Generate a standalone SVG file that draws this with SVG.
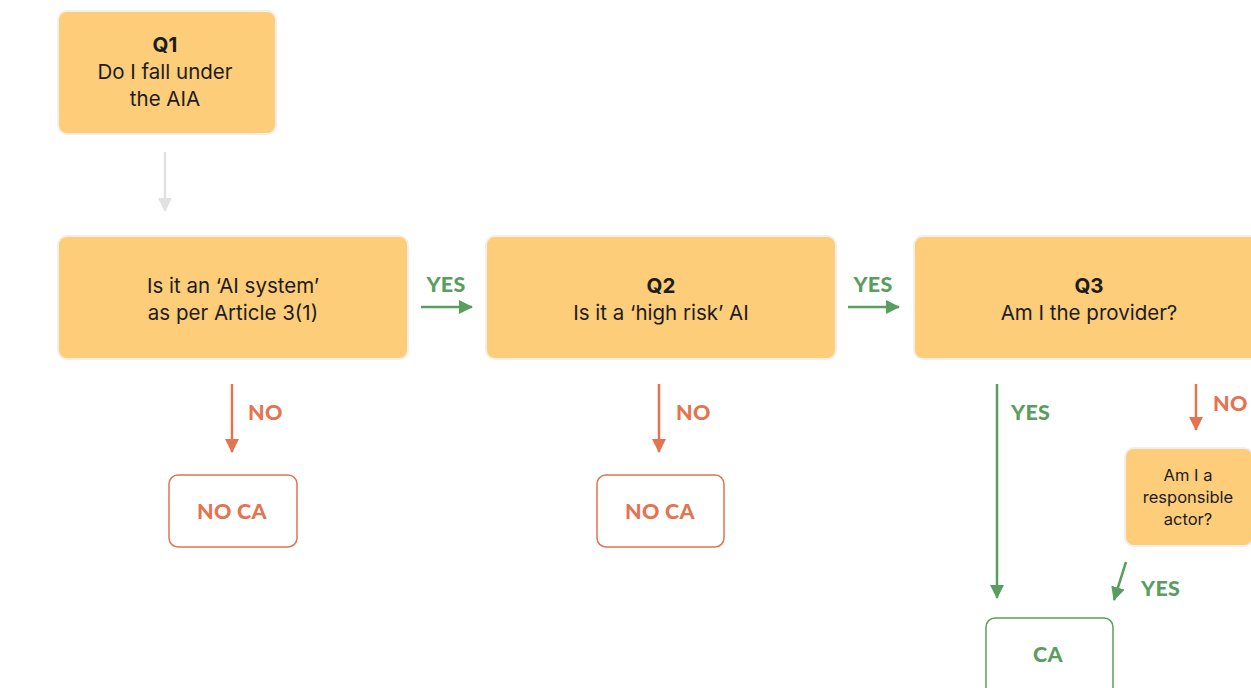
<svg xmlns="http://www.w3.org/2000/svg" width="1251" height="688" viewBox="0 0 1251 688">
<style>
.q{fill:#FDCD7A;stroke:#F3EFE8;stroke-width:2}
.t{font-family:Inter,"Liberation Sans",sans-serif;font-size:20.5px;fill:#1c1c1c;text-anchor:middle}
.ts{font-family:Inter,"Liberation Sans",sans-serif;font-size:16.5px;fill:#1c1c1c;text-anchor:middle}
.b{font-weight:700}
.lbl{font-family:Lato,"Open Sans",sans-serif;font-weight:900;font-size:21.5px;letter-spacing:0.3px}
.g{fill:#5A9E5F}
.r{fill:#E4734F}
.no{fill:#fff;stroke:#E4734F;stroke-width:1.5}
.ca{fill:#fff;stroke:#5A9E5F;stroke-width:1.5}
</style>
<defs>
<marker id="agb" viewBox="0 0 14 14" markerWidth="14" markerHeight="14" refX="13" refY="7" orient="auto" markerUnits="userSpaceOnUse"><path d="M0,0 L14,7 L0,14 z" fill="#5A9E5F"/></marker>
<marker id="ar" viewBox="0 0 14 14" markerWidth="14" markerHeight="14" refX="13" refY="7" orient="auto" markerUnits="userSpaceOnUse"><path d="M0,0 L14,7 L0,14 z" fill="#E4734F"/></marker>
<marker id="ay" viewBox="0 0 14 14" markerWidth="14" markerHeight="14" refX="13" refY="7" orient="auto" markerUnits="userSpaceOnUse"><path d="M0,0 L14,7 L0,14 z" fill="#E2E2E2"/></marker>
</defs>

<g id="q1">
<rect class="q" x="58" y="11" width="218" height="123" rx="9"/>
<text class="t b" x="165" y="52">Q1</text>
<text class="t" x="165" y="79">Do I fall under</text>
<text class="t" x="165" y="106">the AIA</text>
</g>

<g id="aisystem">
<rect class="q" x="58" y="236" width="350" height="123" rx="9"/>
<text class="t" x="233" y="293">Is it an ‘AI system’</text>
<text class="t" x="233" y="320">as per Article 3(1)</text>
</g>

<g id="q2">
<rect class="q" x="486" y="236" width="350" height="123" rx="9"/>
<text class="t b" x="661" y="293">Q2</text>
<text class="t" x="661" y="320">Is it a ‘high risk’ AI</text>
</g>

<g id="q3">
<rect class="q" x="914" y="236" width="350" height="123" rx="9"/>
<text class="t b" x="1089" y="293">Q3</text>
<text class="t" x="1089" y="320">Am I the provider?</text>
</g>

<g id="responsible">
<rect class="q" x="1125" y="448" width="128" height="98" rx="9"/>
<text class="ts" x="1188" y="481">Am I a</text>
<text class="ts" x="1188" y="503">responsible</text>
<text class="ts" x="1188" y="525">actor?</text>
</g>

<g id="noca1">
<rect class="no" x="169" y="475" width="128" height="72" rx="9"/>
<text class="lbl r" x="232" y="519" text-anchor="middle">NO CA</text>
</g>

<g id="noca2">
<rect class="no" x="597" y="475" width="127" height="72" rx="9"/>
<text class="lbl r" x="660" y="519" text-anchor="middle">NO CA</text>
</g>

<g id="ca">
<rect class="ca" x="986" y="618" width="127" height="80" rx="9"/>
<text class="lbl g" x="1048" y="662" text-anchor="middle">CA</text>
</g>

<g id="connectors" stroke-width="2.5" fill="none">
<line x1="165" y1="152" x2="165" y2="211" stroke="#E2E2E2" marker-end="url(#ay)"/>
<line x1="421" y1="307" x2="472" y2="307" stroke="#5A9E5F" marker-end="url(#agb)"/>
<line x1="848" y1="307" x2="899" y2="307" stroke="#5A9E5F" marker-end="url(#agb)"/>
<line x1="232" y1="384" x2="232" y2="452" stroke="#E4734F" marker-end="url(#ar)"/>
<line x1="659" y1="384" x2="659" y2="452" stroke="#E4734F" marker-end="url(#ar)"/>
<line x1="997" y1="384" x2="997" y2="598" stroke="#5A9E5F" marker-end="url(#agb)"/>
<line x1="1196" y1="384" x2="1196" y2="430" stroke="#E4734F" marker-end="url(#ar)"/>
<line x1="1126" y1="562" x2="1114" y2="600" stroke="#5A9E5F" marker-end="url(#agb)"/>
</g>

<g id="labels">
<text class="lbl g" x="446" y="292" text-anchor="middle">YES</text>
<text class="lbl g" x="873" y="292" text-anchor="middle">YES</text>
<text class="lbl r" x="248" y="420">NO</text>
<text class="lbl r" x="676" y="420">NO</text>
<text class="lbl g" x="1011" y="420">YES</text>
<text class="lbl r" x="1213" y="411">NO</text>
<text class="lbl g" x="1141" y="596">YES</text>
</g>
</svg>
